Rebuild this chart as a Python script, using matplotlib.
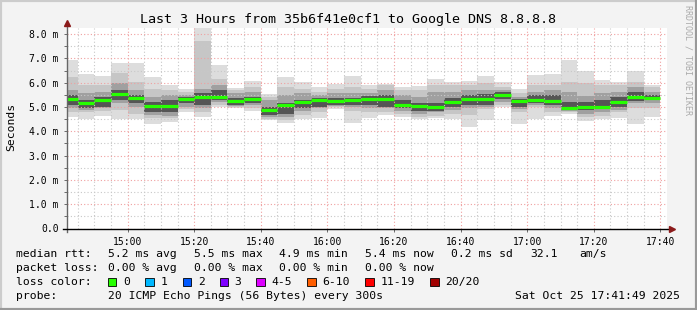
import pandas as pd
import matplotlib
matplotlib.use("Agg")
import matplotlib.pyplot as plt
import matplotlib.dates as mdates
from matplotlib.patches import Rectangle
from matplotlib.lines import Line2D
from matplotlib.ticker import MultipleLocator, FuncFormatter

plt.rcParams['font.family'] = ['DejaVu Sans Mono']

# one step per 5 minutes, start of each step
STEP_START = "2025-10-25 14:40"
N_STEPS = 36
X_FROM = "2025-10-25 14:41:49"
X_TO = "2025-10-25 17:41:49"

# smoke, milliseconds (sorted ping spread per step)
rtt_min = [4.57, 4.50, 4.64, 4.50, 4.50, 4.30, 4.39, 4.78, 4.57, 4.98,
           4.94, 4.83, 4.45, 4.33, 4.52, 4.55, 4.93, 4.33, 4.56, 4.67,
           4.60, 4.49, 4.55, 4.51, 4.19, 4.46, 5.00, 4.29, 4.49, 4.62,
           4.72, 4.44, 4.52, 4.55, 4.30, 4.60]
rtt_p10 = [4.78, 4.78, 4.83, 4.87, 4.73, 4.53, 4.53, 4.91, 4.78, 5.08,
           4.98, 4.94, 4.52, 4.46, 4.67, 4.78, 4.98, 4.85, 4.78, 4.80,
           4.73, 4.60, 4.64, 4.73, 4.67, 4.91, 5.10, 4.78, 5.01, 4.80,
           4.78, 4.60, 4.64, 4.78, 4.97, 4.94]
rtt_p25 = [4.94, 4.87, 4.94, 5.15, 5.01, 4.69, 4.64, 5.01, 4.94, 5.19,
           5.04, 5.08, 4.58, 4.60, 4.83, 4.94, 5.04, 5.00, 4.94, 4.94,
           4.83, 4.73, 4.78, 4.87, 4.94, 5.01, 5.21, 4.91, 5.08, 4.94,
           4.83, 4.73, 4.78, 4.87, 5.15, 5.15]
rtt_p40 = [5.08, 4.94, 5.01, 5.28, 5.15, 4.78, 4.78, 5.15, 5.08, 5.28,
           5.08, 5.15, 4.65, 4.72, 4.94, 5.01, 5.08, 5.08, 5.08, 5.01,
           4.94, 4.83, 4.83, 5.01, 5.08, 5.08, 5.32, 5.01, 5.15, 5.08,
           4.87, 4.87, 4.94, 5.01, 5.24, 5.28]
rtt_median = [5.32, 5.15, 5.30, 5.54, 5.38, 5.04, 5.04, 5.32, 5.39, 5.43,
              5.23, 5.32, 4.88, 5.08, 5.21, 5.30, 5.23, 5.27, 5.34, 5.34,
              5.10, 5.02, 5.01, 5.19, 5.32, 5.32, 5.49, 5.23, 5.30, 5.23,
              4.94, 4.98, 4.99, 5.20, 5.41, 5.38]
rtt_p60 = [5.49, 5.28, 5.42, 5.69, 5.49, 5.21, 5.28, 5.42, 5.56, 5.69,
           5.38, 5.42, 5.01, 5.18, 5.28, 5.35, 5.35, 5.38, 5.46, 5.49,
           5.28, 5.15, 5.15, 5.35, 5.49, 5.52, 5.63, 5.32, 5.49, 5.49,
           5.21, 5.21, 5.28, 5.42, 5.63, 5.49]
rtt_p75 = [5.69, 5.56, 5.63, 5.97, 5.69, 5.42, 5.49, 5.49, 5.76, 5.90,
           5.56, 5.63, 5.28, 5.49, 5.56, 5.49, 5.56, 5.56, 5.56, 5.69,
           5.49, 5.42, 5.63, 5.63, 5.69, 5.69, 5.69, 5.42, 5.63, 5.69,
           5.63, 5.46, 5.56, 5.63, 5.83, 5.63]
rtt_p90 = [6.24, 5.90, 5.90, 6.38, 6.04, 5.76, 5.69, 5.63, 7.71, 6.17,
           5.69, 5.83, 5.42, 5.83, 5.76, 5.63, 5.76, 5.83, 5.76, 5.90,
           5.69, 5.69, 5.90, 5.90, 5.90, 5.97, 5.83, 5.56, 5.90, 5.90,
           6.04, 5.97, 5.90, 5.90, 6.04, 5.83]
rtt_max = [6.93, 6.35, 6.27, 6.81, 6.81, 6.23, 5.90, 5.76, 8.23, 6.72,
           5.80, 6.07, 5.52, 6.24, 6.01, 5.82, 5.96, 6.28, 5.90, 5.96,
           5.83, 5.86, 6.15, 6.04, 6.07, 6.28, 6.04, 5.76, 6.31, 6.35,
           6.92, 6.49, 6.11, 6.01, 6.49, 5.90]

# legend texts
stat_rtt = ["5.2 ms avg", "5.5 ms max", "4.9 ms min", "5.4 ms now", "0.2 ms sd", "32.1", "am/s"]
stat_loss = ["0.00 % avg", "0.00 % max", "0.00 % min", "0.00 % now"]
loss_labels = ["0", "1", "2", "3", "4-5", "6-10", "11-19", "20/20"]
loss_colors = ["#26ff00", "#00b8ff", "#0059ff", "#7e00ff", "#dd00ff", "#ff5e00", "#ff0000", "#a10000"]
probe_text = "20 ICMP Echo Pings (56 Bytes) every 300s"
stamp_text = "Sat Oct 25 17:41:49 2025"
title = "Last 3 Hours from 35b6f41e0cf1 to Google DNS 8.8.8.8"

W, H = 697, 310
fig = plt.figure(figsize=(W / 100, H / 100), dpi=100)
fig.patch.set_facecolor("#f3f3f3")

def fx(px):
    return px / W

def fy(py):
    return 1 - py / H

ax = fig.add_axes([fx(67), fy(228.5), fx(666.5) - fx(67), fy(27.5) - fy(228.5)])
ax.set_facecolor("white")

t = pd.date_range(STEP_START, periods=N_STEPS, freq="5min")
x = mdates.date2num(t.to_pydatetime())
step = 5 / 1440.0

bands = [(rtt_min, rtt_max, "#dddddd"),
         (rtt_p10, rtt_p90, "#c6c6c6"),
         (rtt_p25, rtt_p75, "#a0a0a0"),
         (rtt_p40, rtt_p60, "#555555")]
for lo, hi, col in bands:
    ax.bar(x, [h - l for l, h in zip(lo, hi)], bottom=lo, width=step,
           align="edge", color=col, linewidth=0, zorder=1)

ax.hlines(rtt_median, x, x + step, colors="#26ff00", linewidth=2.3, zorder=4)

ax.set_xlim(mdates.datestr2num(X_FROM), mdates.datestr2num(X_TO))
ax.set_ylim(0, 8.27)

ax.xaxis.set_major_locator(mdates.MinuteLocator(byminute=[0, 20, 40]))
ax.xaxis.set_minor_locator(mdates.MinuteLocator(byminute=range(0, 60, 5)))
ax.xaxis.set_major_formatter(mdates.DateFormatter("%H:%M"))
ax.yaxis.set_major_locator(MultipleLocator(1))
ax.yaxis.set_minor_locator(MultipleLocator(0.5))
ax.yaxis.set_major_formatter(FuncFormatter(lambda v, p: "0.0" if v == 0 else "%.1f m" % v))

ax.set_axisbelow(False)
ax.grid(which="major", color="#f0a0a0", linestyle=(0, (1, 2)), linewidth=0.8)
ax.grid(which="minor", color="#c8c8c8", linestyle=(0, (1, 2)), linewidth=0.8)

for s in ax.spines.values():
    s.set_visible(False)
ax.tick_params(which="both", length=2, width=0.6, color="#555555", labelsize=7, pad=4)
ax.tick_params(axis="x", which="minor", length=0)

# axis lines with arrows
ax.add_line(Line2D([0, 0], [-0.016, 1.01], transform=ax.transAxes, color="#666666",
                   linewidth=1, clip_on=False, zorder=5))
ax.add_line(Line2D([-0.007, 1.005], [0, 0], transform=ax.transAxes, color="black",
                   linewidth=1, clip_on=False, zorder=5))
ax.plot([0], [1.02], marker="^", markersize=4, color="#8b1a1a", transform=ax.transAxes, clip_on=False, zorder=6)
ax.plot([1.0085], [0], marker=">", markersize=4, color="#8b1a1a", transform=ax.transAxes, clip_on=False, zorder=6)

fig.text(0.5, fy(19), title, ha="center", va="center", fontsize=9.6)
fig.text(fx(11), fy(127), "Seconds", rotation=90, ha="center", va="center", fontsize=8.2)
fig.text(fx(688), fy(60), "RRDTOOL / TOBI OETIKER", rotation=270, ha="center", va="center",
         fontsize=6, color="#aaaaaa")

lfs = 8.2
cols = [107.6, 193.8, 279.1, 365.3, 451.1, 530.2, 579.1]
fig.text(fx(16), fy(254), "median rtt:", va="center", fontsize=lfs)
for c, s in zip(cols, stat_rtt):
    fig.text(fx(c), fy(254), s, va="center", fontsize=lfs)
fig.text(fx(16), fy(268), "packet loss:", va="center", fontsize=lfs)
for c, s in zip(cols, stat_loss):
    fig.text(fx(c), fy(268), s, va="center", fontsize=lfs)
fig.text(fx(16), fy(282), "loss color:", va="center", fontsize=lfs)
box_x = [108, 145.3, 182.7, 219.6, 256.4, 307.1, 365.3, 430.2]
for bx, lab, col in zip(box_x, loss_labels, loss_colors):
    fig.patches.append(Rectangle((fx(bx), fy(286)), fx(8.4), 8 / H, transform=fig.transFigure,
                                 facecolor=col, edgecolor="black", linewidth=0.6))
    fig.text(fx(bx + 15), fy(282), lab, va="center", fontsize=lfs)
fig.text(fx(16), fy(296), "probe:", va="center", fontsize=lfs)
fig.text(fx(107.6), fy(296), probe_text, va="center", fontsize=lfs)
fig.text(fx(680), fy(296), stamp_text, va="center", ha="right", fontsize=lfs)

# rrdtool style frame
fig.add_artist(Line2D([0, 0, 1], [0, 1, 1], transform=fig.transFigure, color="#cccccc", linewidth=3))
fig.add_artist(Line2D([0, 1, 1], [0, 0, 1], transform=fig.transFigure, color="#999999", linewidth=3))

fig.savefig("out.png", dpi=100, facecolor=fig.get_facecolor())
